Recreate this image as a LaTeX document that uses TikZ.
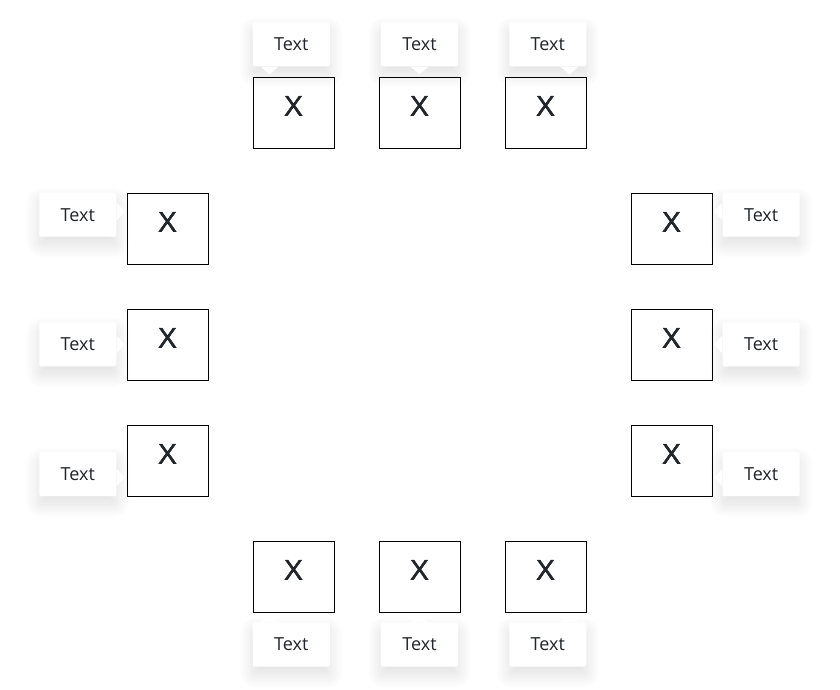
\documentclass[tikz,border=0pt]{standalone}
\usepackage{fontspec}
\setmainfont{Open Sans}
\newfontfamily\boxfont[FakeBold=2,FakeStretch=1.12]{Open Sans}
\usepackage{tikz}
\usetikzlibrary{positioning,shadows.blur}

\definecolor{tipink}{HTML}{212529}

\tikzset{
  xbox/.style={draw=black, line width=0.9pt, minimum width=81pt, minimum height=71pt,
               inner sep=0pt, text=tipink, font=\boxfont\fontsize{27}{27}\selectfont,
               text height=19pt, text depth=13pt},
  tip/.style={fill=white, rounded corners=2pt, minimum width=77pt, minimum height=44pt,
              inner sep=0pt, text=tipink, font=\fontsize{18}{20}\selectfont,
              blur shadow={shadow xshift=0pt, shadow yshift=-8pt,
                           shadow blur radius=14pt, shadow blur steps=20,
                           shadow opacity=13}},
  pointer/.style={fill=white}
}

\begin{document}
\begin{tikzpicture}[x=1pt, y=1pt]
    \useasboundingbox (0,0) rectangle (840,690);

    % the boxes, top row, left column, right column, bottom row
    \node[xbox] (b1)  at (293.5,577.5) {X};
    \node[xbox] (b2)  at (419.5,577.5) {X};
    \node[xbox] (b3)  at (545.5,577.5) {X};

    \node[xbox] (b4)  at (167.5,461.5) {X};
    \node[xbox] (b5)  at (167.5,345.5) {X};
    \node[xbox] (b6)  at (167.5,229.5) {X};

    \node[xbox] (b7)  at (671.5,461.5) {X};
    \node[xbox] (b8)  at (671.5,345.5) {X};
    \node[xbox] (b9)  at (671.5,229.5) {X};

    \node[xbox] (b10) at (293.5,113.5) {X};
    \node[xbox] (b11) at (419.5,113.5) {X};
    \node[xbox] (b12) at (545.5,113.5) {X};

    % tooltips on top (start, middle, end)
    \node[tip, above right=10pt and 0pt of b1.north west] (t1) {Text};
    \node[tip, above=10pt of b2] (t2) {Text};
    \node[tip, above left=10pt and 0pt of b3.north east] (t3) {Text};
    \fill[pointer] ([xshift=8pt]t1.south west) -- ++(9,-8) -- ++(9,8) -- cycle;
    \fill[pointer] ([xshift=-9pt]t2.south) -- ++(9,-8) -- ++(9,8) -- cycle;
    \fill[pointer] ([xshift=-26pt]t3.south east) -- ++(9,-8) -- ++(9,8) -- cycle;

    % tooltips on the left
    \node[tip, below left=0pt and 10pt of b4.north west] (t4) {Text};
    \node[tip, left=10pt of b5] (t5) {Text};
    \node[tip, above left=0pt and 10pt of b6.south west] (t6) {Text};
    \fill[pointer] ([yshift=-10pt]t4.north east) -- ++(8,-9) -- ++(-8,-9) -- cycle;
    \fill[pointer] ([yshift=9pt]t5.east) -- ++(8,-9) -- ++(-8,-9) -- cycle;
    \fill[pointer] ([yshift=28pt]t6.south east) -- ++(8,-9) -- ++(-8,-9) -- cycle;

    % tooltips on the right
    \node[tip, below right=0pt and 10pt of b7.north east] (t7) {Text};
    \node[tip, right=10pt of b8] (t8) {Text};
    \node[tip, above right=0pt and 10pt of b9.south east] (t9) {Text};
    \fill[pointer] ([yshift=-10pt]t7.north west) -- ++(-8,-9) -- ++(8,-9) -- cycle;
    \fill[pointer] ([yshift=9pt]t8.west) -- ++(-8,-9) -- ++(8,-9) -- cycle;
    \fill[pointer] ([yshift=28pt]t9.south west) -- ++(-8,-9) -- ++(8,-9) -- cycle;

    % tooltips below
    \node[tip, below right=10pt and 0pt of b10.south west] (t10) {Text};
    \node[tip, below=10pt of b11] (t11) {Text};
    \node[tip, below left=10pt and 0pt of b12.south east] (t12) {Text};
    \fill[pointer] ([xshift=8pt]t10.north west) -- ++(9,8) -- ++(9,-8) -- cycle;
    \fill[pointer] ([xshift=-9pt]t11.north) -- ++(9,8) -- ++(9,-8) -- cycle;
    \fill[pointer] ([xshift=-26pt]t12.north east) -- ++(9,8) -- ++(9,-8) -- cycle;
\end{tikzpicture}
\end{document}
